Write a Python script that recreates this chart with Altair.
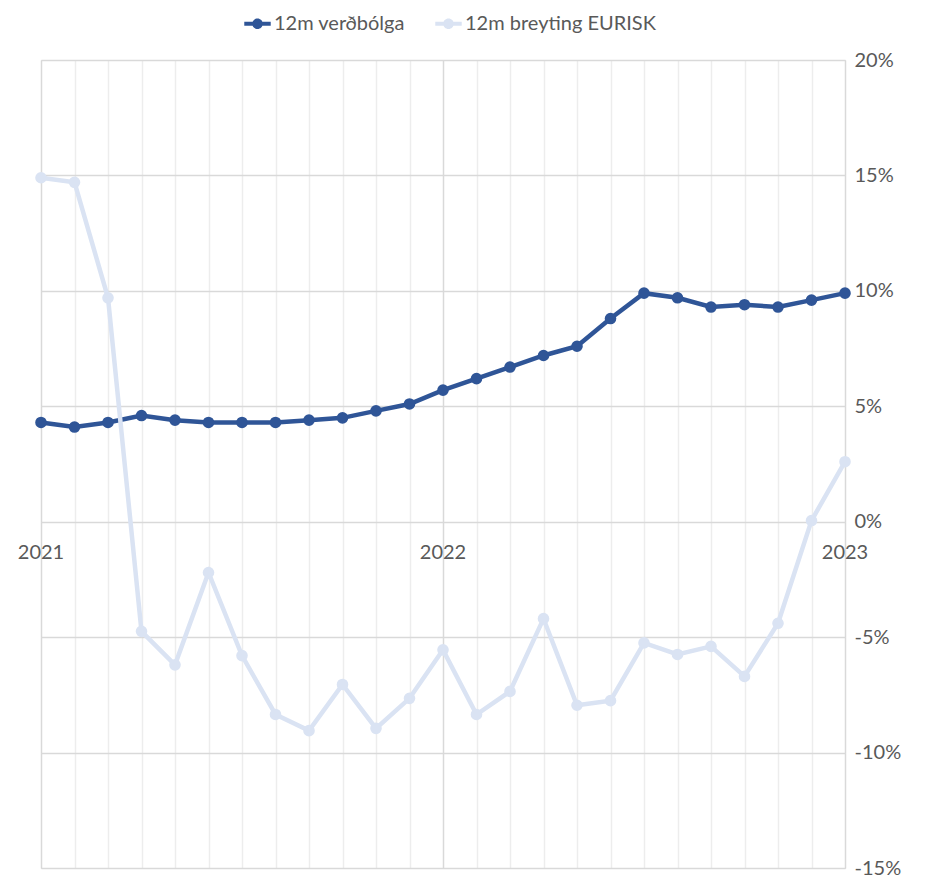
import altair as alt
import pandas as pd

months = [
    "2021-01", "2021-02", "2021-03", "2021-04", "2021-05", "2021-06",
    "2021-07", "2021-08", "2021-09", "2021-10", "2021-11", "2021-12",
    "2022-01", "2022-02", "2022-03", "2022-04", "2022-05", "2022-06",
    "2022-07", "2022-08", "2022-09", "2022-10", "2022-11", "2022-12",
    "2023-01",
]
verdbolga = [4.3, 4.1, 4.3, 4.6, 4.4, 4.3, 4.3, 4.3, 4.4, 4.5, 4.8, 5.1,
             5.7, 6.2, 6.7, 7.2, 7.6, 8.8, 9.9, 9.7, 9.3, 9.4, 9.3, 9.6, 9.9]
eurisk = [14.9, 14.7, 9.7, -4.75, -6.2, -2.2, -5.8, -8.35, -9.05, -7.05, -8.95, -7.65,
          -5.55, -8.35, -7.35, -4.2, -7.95, -7.75, -5.25, -5.75, -5.4, -6.7, -4.4, 0.05, 2.6]
series_names = ["12m verðbólga", "12m breyting EURISK"]
series_colors = ["#2F5597", "#DAE3F3"]
year_months = ["2021-01", "2022-01", "2023-01"]
year_labels = ["2021", "2022", "2023"]

rows = []
for m, v in zip(months, verdbolga):
    rows.append({"month": m, "value": v, "series": series_names[0]})
for m, v in zip(months, eurisk):
    rows.append({"month": m, "value": v, "series": series_names[1]})
df = pd.DataFrame(rows)
years_df = pd.DataFrame({"month": year_months, "label": year_labels, "zero": [0, 0, 0]})

FONT = "Lato"
TXT = "#595959"

x_enc = alt.X(
    "month:O",
    scale=alt.Scale(type="point", padding=0, domain=months),
    axis=alt.Axis(
        labels=False, ticks=False, domain=False, title=None,
        grid=True,
        gridColor={"condition": {"test": "indexof(datum.value, '-01') > 0", "value": "#D9D9D9"},
                   "value": "#EDEDED"},
        gridWidth=1.5,
    ),
)
y_enc = alt.Y(
    "value:Q",
    scale=alt.Scale(domain=[-15, 20], nice=False, zero=False),
    axis=alt.Axis(
        orient="right", values=[-15, -10, -5, 0, 5, 10, 15, 20],
        labelExpr="datum.value + '%'", title=None, ticks=False, domain=False,
        gridColor="#D9D9D9", gridWidth=1.5, labelPadding=9,
        labelFont=FONT, labelFontSize=20, labelColor=TXT,
    ),
)

legend_symbol = ("M-1,-0.16 L1,-0.16 L1,0.16 L-1,0.16 Z "
                 "M0.4,0 A0.4,0.4 0 1,1 -0.4,0 A0.4,0.4 0 1,1 0.4,0 Z")

color_enc = alt.Color(
    "series:N",
    scale=alt.Scale(domain=series_names, range=series_colors),
    legend=alt.Legend(
        title=None, orient="none", direction="horizontal",
        legendX=203, legendY=-50,
        symbolType=legend_symbol, symbolSize=700, symbolStrokeWidth=0,
        labelFont=FONT, labelFontSize=20, labelColor=TXT, labelLimit=400,
        columnPadding=30, labelOffset=3,
    ),
)

lines = alt.Chart(df).mark_line(strokeWidth=4.5).encode(
    x=x_enc, y=y_enc, color=color_enc, detail="series:N"
)
points = alt.Chart(df).mark_point(filled=True, size=135, opacity=1).encode(
    x=x_enc, y=y_enc, color=alt.Color("series:N", scale=alt.Scale(domain=series_names, range=series_colors), legend=None)
)

dark_lines = lines.transform_filter(alt.datum.series == series_names[0])
dark_points = points.transform_filter(alt.datum.series == series_names[0])
light_lines = lines.transform_filter(alt.datum.series == series_names[1])
light_points = points.transform_filter(alt.datum.series == series_names[1])

year_text = alt.Chart(years_df).mark_text(
    font=FONT, fontSize=20, color=TXT, dy=31, baseline="middle", align="center"
).encode(
    x=alt.X("month:O", scale=alt.Scale(type="point", padding=0, domain=months)),
    y=alt.Y("zero:Q", scale=alt.Scale(domain=[-15, 20], nice=False, zero=False)),
    text="label:N",
)

chart = alt.layer(
    dark_lines, dark_points, light_lines, light_points, year_text
).properties(
    width=804, height=808,
    autosize=alt.AutoSizeParams(type="none"),
    padding={"left": 33, "top": 52, "right": 75, "bottom": 10},
).configure_view(stroke=None).configure(background="white")

chart.save("out.html", embed_options={"renderer": "svg", "actions": False})
